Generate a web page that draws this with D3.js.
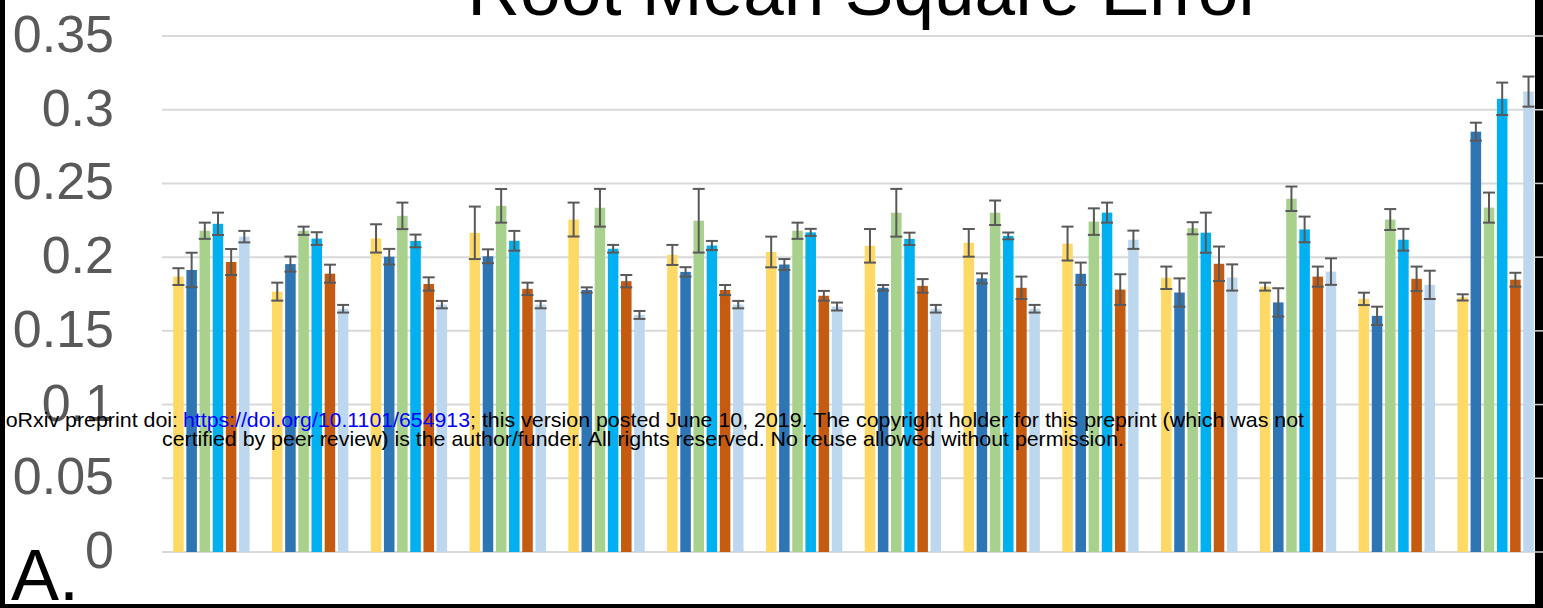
<!DOCTYPE html>
<html>
<head>
<meta charset="utf-8">
<script src="https://cdn.jsdelivr.net/npm/d3@7"></script>
<style>
  html, body { margin: 0; padding: 0; background: #fff; overflow: hidden; }
  svg { display: block; }
  text { font-family: "Liberation Sans", Arial, sans-serif; }
</style>
</head>
<body>
<svg id="chart" width="1543" height="608"></svg>
<script>
// Fourteen conditions, six methods each: mean RMSE and its error half-width
const groups = d3.range(1, 15).map(String);
const series = ["m1", "m2", "m3", "m4", "m5", "m6"];
const colors = ["#FFD966", "#2E75B6", "#A9D18E", "#00B0F0", "#C55A11", "#BDD7EE"];

const m1 = [0.1868, 0.1766, 0.2127, 0.2165, 0.2255, 0.2015, 0.2035, 0.2077, 0.2097, 0.2092, 0.1860, 0.1800, 0.1717, 0.1727];
const m2 = [0.1913, 0.1953, 0.2003, 0.2006, 0.1777, 0.1900, 0.1950, 0.1792, 0.1856, 0.1887, 0.1760, 0.1693, 0.1602, 0.2851];
const m3 = [0.2179, 0.2179, 0.2280, 0.2348, 0.2335, 0.2247, 0.2179, 0.2301, 0.2301, 0.2241, 0.2196, 0.2396, 0.2255, 0.2336];
const m4 = [0.2226, 0.2126, 0.2110, 0.2111, 0.2057, 0.2079, 0.2168, 0.2124, 0.2144, 0.2302, 0.2166, 0.2188, 0.2118, 0.3074];
const m5 = [0.1967, 0.1888, 0.1818, 0.1785, 0.1837, 0.1777, 0.1738, 0.1805, 0.1792, 0.1780, 0.1955, 0.1868, 0.1853, 0.1847];
const m6 = [0.2139, 0.1650, 0.1678, 0.1678, 0.1608, 0.1678, 0.1665, 0.1650, 0.1650, 0.2118, 0.1862, 0.1902, 0.1812, 0.3123];

const e1 = [0.0057, 0.0061, 0.0096, 0.0178, 0.0115, 0.0068, 0.0104, 0.0114, 0.0094, 0.0115, 0.0076, 0.0027, 0.0042, 0.0021];
const e2 = [0.0117, 0.0051, 0.0053, 0.0047, 0.0018, 0.0032, 0.0037, 0.0019, 0.0034, 0.0076, 0.0096, 0.0096, 0.0062, 0.0061];
const e3 = [0.0055, 0.0028, 0.0090, 0.0114, 0.0128, 0.0216, 0.0055, 0.0162, 0.0083, 0.0090, 0.0041, 0.0083, 0.0071, 0.0102];
const e4 = [0.0076, 0.0043, 0.0043, 0.0067, 0.0026, 0.0031, 0.0024, 0.0042, 0.0023, 0.0068, 0.0136, 0.0087, 0.0074, 0.0110];
const e5 = [0.0088, 0.0061, 0.0045, 0.0042, 0.0042, 0.0034, 0.0033, 0.0046, 0.0076, 0.0104, 0.0117, 0.0068, 0.0083, 0.0047];
const e6 = [0.0039, 0.0026, 0.0025, 0.0025, 0.0027, 0.0025, 0.0027, 0.0026, 0.0026, 0.0062, 0.0089, 0.0090, 0.0096, 0.0102];

const yTicks = [0, 0.05, 0.1, 0.15, 0.2, 0.25, 0.3, 0.35];
const yTickLabels = ["0", "0.05", "0.1", "0.15", "0.2", "0.25", "0.3", "0.35"];

const title = "Root Mean Square Error";
const panelLabel = "A.";

const values = [m1, m2, m3, m4, m5, m6];
const errors = [e1, e2, e3, e4, e5, e6];

const svg = d3.select("#chart");
const W = 1543, H = 608;

const x0 = d3.scaleBand().domain(groups).range([162, 1545]).paddingInner(0.2).paddingOuter(0.1);
const x1 = d3.scaleBand().domain(series).range([0, x0.bandwidth()]).paddingInner(0.2).paddingOuter(0.1);
const y = d3.scaleLinear().domain([0, 0.35]).range([552, 36]);

// horizontal gridlines
svg.append("g")
  .selectAll("line")
  .data(yTicks)
  .join("line")
  .attr("x1", 162).attr("x2", 1536)
  .attr("y1", d => y(d)).attr("y2", d => y(d))
  .attr("stroke", "#d9d9d9").attr("stroke-width", 2);

// y tick labels
svg.append("g")
  .selectAll("text")
  .data(yTicks)
  .join("text")
  .attr("x", 114)
  .attr("y", d => y(d) + 16)
  .attr("text-anchor", "end")
  .attr("font-size", 52)
  .attr("fill", "#595959")
  .text((d, i) => yTickLabels[i]);

// bars
const flat = [];
groups.forEach((g, gi) => series.forEach((s, si) => {
  flat.push({ g, s, si, v: values[si][gi], e: errors[si][gi] });
}));

const barG = svg.append("g");
barG.selectAll("rect")
  .data(flat)
  .join("rect")
  .attr("x", d => x0(d.g) + x1(d.s))
  .attr("y", d => y(d.v))
  .attr("width", x1.bandwidth())
  .attr("height", d => y(0) - y(d.v))
  .attr("fill", d => colors[d.si]);

// error bars
const errG = svg.append("g").attr("stroke", "#595959").attr("stroke-width", 2);
flat.forEach(d => {
  const cx = x0(d.g) + x1(d.s) + x1.bandwidth() / 2;
  const hw = 6;
  errG.append("line").attr("x1", cx).attr("x2", cx).attr("y1", y(d.v + d.e)).attr("y2", y(d.v - d.e));
  errG.append("line").attr("x1", cx - hw).attr("x2", cx + hw).attr("y1", y(d.v + d.e)).attr("y2", y(d.v + d.e));
  errG.append("line").attr("x1", cx - hw).attr("x2", cx + hw).attr("y1", y(d.v - d.e)).attr("y2", y(d.v - d.e));
});

// title
svg.append("text")
  .attr("x", 865).attr("y", 15)
  .attr("text-anchor", "middle")
  .attr("font-size", 73)
  .attr("fill", "#000")
  .text(title);

// panel label
svg.append("text")
  .attr("x", 11).attr("y", 600)
  .attr("font-size", 72)
  .attr("fill", "#000")
  .text(panelLabel);

// preprint notice
const note = svg.append("g").attr("font-size", 21).attr("fill", "#000");
const noteParts = [
  { t: "bioRxiv preprint doi:", x: -11, y: 427, len: 189, c: "#000" },
  { t: "https://doi.org/10.1101/654913", x: 183, y: 427, len: 287, c: "#0000ff" },
  { t: "; this version posted June 10, 2019. The copyright holder for this preprint (which was not", x: 470, y: 427, len: 834, c: "#000" },
  { t: "certified by peer review) is the author/funder. All rights reserved. No reuse allowed without permission.", x: 162, y: 446, len: 962, c: "#000" }
];
note.selectAll("text")
  .data(noteParts)
  .join("text")
  .attr("x", d => d.x).attr("y", d => d.y)
  .attr("textLength", d => d.len)
  .attr("lengthAdjust", "spacingAndGlyphs")
  .attr("fill", d => d.c)
  .text(d => d.t);

// page frame
svg.append("rect").attr("x", 0).attr("y", 0).attr("width", 5).attr("height", H).attr("fill", "#000");
svg.append("rect").attr("x", 0).attr("y", 604).attr("width", W).attr("height", 4).attr("fill", "#000");
svg.append("rect").attr("x", 1535).attr("y", 0).attr("width", 8).attr("height", H).attr("fill", "#000");
svg.append("g")
  .selectAll("line")
  .data(yTicks)
  .join("line")
  .attr("x1", 1535).attr("x2", W)
  .attr("y1", d => y(d)).attr("y2", d => y(d))
  .attr("stroke", "#cfcfcf").attr("stroke-width", 1.5);
</script>
</body>
</html>
